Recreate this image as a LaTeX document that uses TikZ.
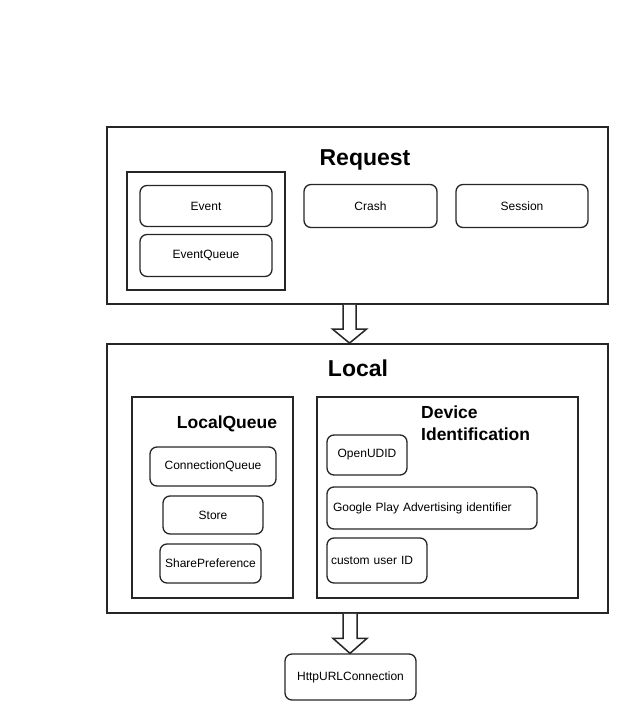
\documentclass[tikz,border=0pt]{standalone}
\usepackage{fontspec}
\setmainfont{Liberation Sans}
\usetikzlibrary{calc}
\begin{document}
\begin{tikzpicture}[x=1pt,y=-1pt,
  rbox/.style={draw=black!85, line width=1.3pt, rounded corners=7pt, font=\fontsize{12}{14}\selectfont, inner sep=0pt},
  sbox/.style={draw=black!85, line width=1.8pt, inner sep=0pt},
  bigtitle/.style={font=\fontsize{23}{26}\selectfont\bfseries, inner sep=0pt},
  midtitle/.style={font=\fontsize{17.5}{22}\selectfont\bfseries, inner sep=0pt},
  blockarrow/.style={draw=black!85, line width=1.5pt, fill=white, line join=miter}]
\useasboundingbox (0,0) rectangle (627,720);
% Request
\node[sbox, minimum width=501pt, minimum height=177pt] (req) at (357.5,215.5) {};
\node[bigtitle] (reqt) at (365,159.5) {Request};
\node[sbox, minimum width=158pt, minimum height=118pt] (evgrp) at (206,231) {};
\node[rbox, minimum width=132pt, minimum height=41pt] (event) at (206,206) {Event};
\node[rbox, minimum width=132pt, minimum height=42pt] (evq) at (206,255.5) {EventQueue};
\node[rbox, minimum width=133pt, minimum height=43pt] (crash) at (370.5,206) {Crash};
\node[rbox, minimum width=132pt, minimum height=43pt] (session) at (522,206) {Session};
% Local
\node[sbox, minimum width=501pt, minimum height=269pt] (local) at (357.5,478.5) {};
\node[bigtitle] (localt) at (358,368) {Local};
\node[sbox, minimum width=161pt, minimum height=201pt] (lq) at (212.5,497.5) {};
\node[midtitle] (lqt) at (227,424) {LocalQueue};
\node[sbox, minimum width=261pt, minimum height=201pt] (dev) at (447.5,497.5) {};
\node[midtitle, anchor=north west, align=left] (devt) at (421,406) {Device\\Identification};
\node[rbox, minimum width=126pt, minimum height=39pt] (cq) at (213,466.5) {ConnectionQueue};
\node[rbox, minimum width=100pt, minimum height=38pt] (store) at (213,515) {Store};
\node[rbox, minimum width=101pt, minimum height=39pt] (sp) at (210.5,563.5) {SharePreference};
\node[rbox, minimum width=80pt, minimum height=40pt] (oudid) at (367,455) {OpenUDID};
\node[rbox, inner xsep=6pt, text width=198pt, align=left, minimum height=42pt] (gpa) at (432,508) {Google Play Advertising identifier};
\node[rbox, inner xsep=4pt, text width=92pt, align=left, minimum height=45pt] (cuid) at (377,560.5) {custom user ID};
% Http
\node[rbox, minimum width=131pt, minimum height=46pt] (http) at (350.5,677) {HttpURLConnection};
% Arrows
\coordinate (a1x) at (349.5,0);
\coordinate (a2x) at (350,0);
\draw[blockarrow] let \p1=(a1x |- req.south), \p2=(a1x |- local.north) in
  (\x1-6.5pt,\y1) -- (\x1-6.5pt,\y2+14pt) -- (\x1-17pt,\y2+14pt) -- (\x1,\y2) -- (\x1+17pt,\y2+14pt) -- (\x1+6.5pt,\y2+14pt) -- (\x1+6.5pt,\y1);
\draw[blockarrow] let \p1=(a2x |- local.south), \p2=(a2x |- http.north) in
  (\x1-7pt,\y1) -- (\x1-7pt,\y2+15pt) -- (\x1-17pt,\y2+15pt) -- (\x1,\y2) -- (\x1+17pt,\y2+15pt) -- (\x1+7pt,\y2+15pt) -- (\x1+7pt,\y1);
\end{tikzpicture}
\end{document}
